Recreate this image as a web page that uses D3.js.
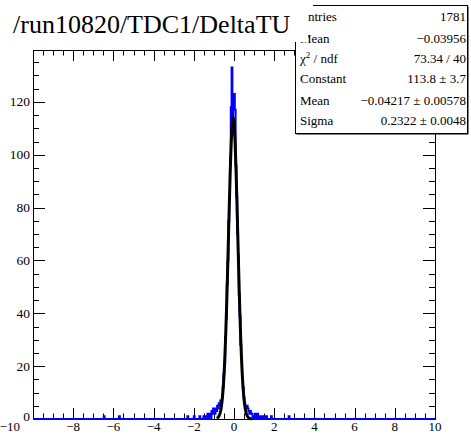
<!DOCTYPE html>
<html>
<head>
<meta charset="utf-8">
<script src="https://cdn.jsdelivr.net/npm/d3@7"></script>
<style>
  body { margin: 0; background: #fff; }
  text { font-family: "Liberation Serif", "DejaVu Serif", serif; }
</style>
</head>
<body>
<div id="chart"></div>
<script>
// histogram binning (TH1 with 500 bins from -10 to 10)
var binLo = -10, binHi = 10, nBins = 500;

// non-empty bins: bin centres and counts
var binCenters = [-6.46, -5.70, -2.30, -1.98, -1.70, -1.50, -1.38, -1.30, -1.22, -1.18,
  -1.10, -1.06, -1.02, -0.98, -0.94, -0.90, -0.86, -0.82, -0.78, -0.74,
  -0.70, -0.66, -0.62, -0.58, -0.54, -0.50, -0.46, -0.42, -0.38, -0.34,
  -0.30, -0.26, -0.22, -0.18, -0.14, -0.10, -0.06, -0.02, 0.02, 0.06,
  0.10, 0.14, 0.18, 0.22, 0.26, 0.30, 0.34, 0.38, 0.42, 0.46,
  0.50, 0.54, 0.58, 0.62, 0.66, 0.70, 0.74, 0.78, 0.82, 0.86,
  0.90, 0.98, 1.06, 1.10, 1.18, 1.26, 1.34, 1.42, 1.50, 1.62,
  1.86, 2.74];
var binCounts = [1, 1, 1, 1, 1, 1, 1, 2, 1, 2,
  3, 2, 4, 3, 2, 4, 3, 5, 4, 6,
  5, 7, 6, 9, 12, 17, 21, 31, 38, 51,
  60, 75, 83, 99, 118, 133, 112, 120, 123, 117,
  96, 84, 70, 62, 47, 39, 28, 23, 15, 12,
  8, 6, 5, 4, 5, 4, 3, 2, 3, 2,
  2, 1, 2, 1, 2, 1, 1, 1, 1, 1,
  1, 1];

// gaus fit result
var fitConstant = 113.8, fitMean = -0.04217, fitSigma = 0.2322;
var fitRange = [-0.86, 0.88];

// stats box
var statLabels = ["Entries", "Mean", "\u03c7\u00b2 / ndf", "Constant", "Mean", "Sigma"];
var statValues = ["1781", "\u22120.03956", "73.34 / 40", "113.8 \u00b1 3.7",
  "\u22120.04217 \u00b1 0.00578", "0.2322 \u00b1 0.0048"];

var titleText = "/run10820/TDC1/DeltaTU";
var xTicks = [-10, -8, -6, -4, -2, 0, 2, 4, 6, 8, 10];
var yTicks = [0, 20, 40, 60, 80, 100, 120];

var W = 471, H = 441;
var fl = 33, fr = 435, ft = 50, fb = 419;

var counts = new Array(nBins).fill(0);
var bw = (binHi - binLo) / nBins;
binCenters.forEach(function(c, i) {
  counts[Math.floor((c - binLo) / bw)] = binCounts[i];
});
var yMax = d3.max(counts) * 1.05;

var x = d3.scaleLinear().domain([binLo, binHi]).range([fl, fr]);
var y = d3.scaleLinear().domain([0, yMax]).range([fb, ft]);

var svg = d3.select("#chart").append("svg")
  .attr("width", W).attr("height", H);

svg.append("rect").attr("width", W).attr("height", H).attr("fill", "#fff");

// frame
svg.append("rect")
  .attr("x", fl + 0.5).attr("y", ft + 0.5).attr("width", fr - fl).attr("height", fb - ft)
  .attr("fill", "none").attr("stroke", "#000").attr("stroke-width", 1);

// ticks, all four sides
var ticks = svg.append("g").attr("stroke", "#000").attr("stroke-width", 1);
d3.range(-10, 10.01, 0.5).forEach(function(v) {
  var major = Math.abs(v / 2 - Math.round(v / 2)) < 1e-6;
  var len = major ? 11 : 5.5;
  var px = Math.round(x(v)) + 0.5;
  ticks.append("line").attr("x1", px).attr("x2", px).attr("y1", fb).attr("y2", fb - len);
  ticks.append("line").attr("x1", px).attr("x2", px).attr("y1", ft).attr("y2", ft + len);
});
d3.range(0, yMax, 5).forEach(function(v) {
  var major = v % 20 === 0;
  var len = major ? 12 : 6;
  var py = Math.round(y(v)) + 0.5;
  ticks.append("line").attr("x1", fl).attr("x2", fl + len).attr("y1", py).attr("y2", py);
  ticks.append("line").attr("x1", fr).attr("x2", fr - len).attr("y1", py).attr("y2", py);
});

// tick labels (the first one is pushed left of the y-axis "0")
svg.append("g").selectAll("text").data(xTicks).join("text")
  .attr("x", function(d, i) { return i === 0 ? 20 : x(d); })
  .attr("y", 431)
  .attr("text-anchor", function(d, i) { return i === 0 ? "end" : "middle"; })
  .attr("font-size", 13)
  .text(function(d) { return d < 0 ? "\u2212" + (-d) : d; });

svg.append("g").selectAll("text").data(yTicks).join("text")
  .attr("x", 30)
  .attr("y", function(d) { return y(d) + 4.5 - (d === 0 ? 3 : 0); })
  .attr("text-anchor", "end")
  .attr("font-size", 13.5)
  .text(function(d) { return d; });

// histogram outline
var pts = [];
counts.forEach(function(c, i) { pts.push([binLo + i * bw, c]); });
pts.push([binHi, counts[nBins - 1]]);
var stepLine = d3.line()
  .x(function(d) { return x(d[0]); })
  .y(function(d) { return y(d[1]); })
  .curve(d3.curveStepAfter);
svg.append("path")
  .attr("d", stepLine(pts))
  .attr("fill", "none")
  .attr("stroke", "#0000ff")
  .attr("stroke-width", 2);

// fitted gaussian
var fitPts = d3.range(0, 101).map(function(i) {
  var xv = fitRange[0] + (fitRange[1] - fitRange[0]) * i / 100;
  var z = (xv - fitMean) / fitSigma;
  return [xv, fitConstant * Math.exp(-0.5 * z * z)];
});
svg.append("path")
  .attr("d", d3.line().x(function(d) { return x(d[0]); }).y(function(d) { return y(d[1]); })(fitPts))
  .attr("fill", "none")
  .attr("stroke", "#000")
  .attr("stroke-width", 3);

// stats box
var sb = { x: 295, y: 5, w: 172, h: 128 };
svg.append("rect")
  .attr("x", sb.x + 1.5).attr("y", sb.y + 1.5).attr("width", sb.w).attr("height", sb.h)
  .attr("fill", "#000");
svg.append("rect")
  .attr("x", sb.x + 0.5).attr("y", sb.y + 0.5).attr("width", sb.w).attr("height", sb.h)
  .attr("fill", "#fff").attr("stroke", "#000").attr("stroke-width", 1);

var rowY = [21, 43, 63, 83, 104.5, 125];
var stats = svg.append("g").attr("font-size", 13);
statLabels.forEach(function(l, i) {
  var t = stats.append("text").attr("x", 300).attr("y", rowY[i]);
  if (i === 2) {
    t.append("tspan").text("\u03c7");
    t.append("tspan").attr("dy", -5).attr("font-size", 9).text("2");
    t.append("tspan").attr("dy", 5).text(" / ndf");
  } else {
    t.text(l);
  }
  stats.append("text").attr("x", 466).attr("y", rowY[i])
    .attr("text-anchor", "end").text(statValues[i]);
});

// title pave (white, sits over the stats box corner)
svg.append("rect").attr("x", 0).attr("y", 0).attr("width", 308).attr("height", 42)
  .attr("fill", "#fff");
svg.append("rect").attr("x", 308).attr("y", 0).attr("width", 5).attr("height", 7)
  .attr("fill", "#fff");
svg.append("text")
  .attr("x", 13).attr("y", 33)
  .attr("font-size", 26)
  .text(titleText);
</script>
</body>
</html>
